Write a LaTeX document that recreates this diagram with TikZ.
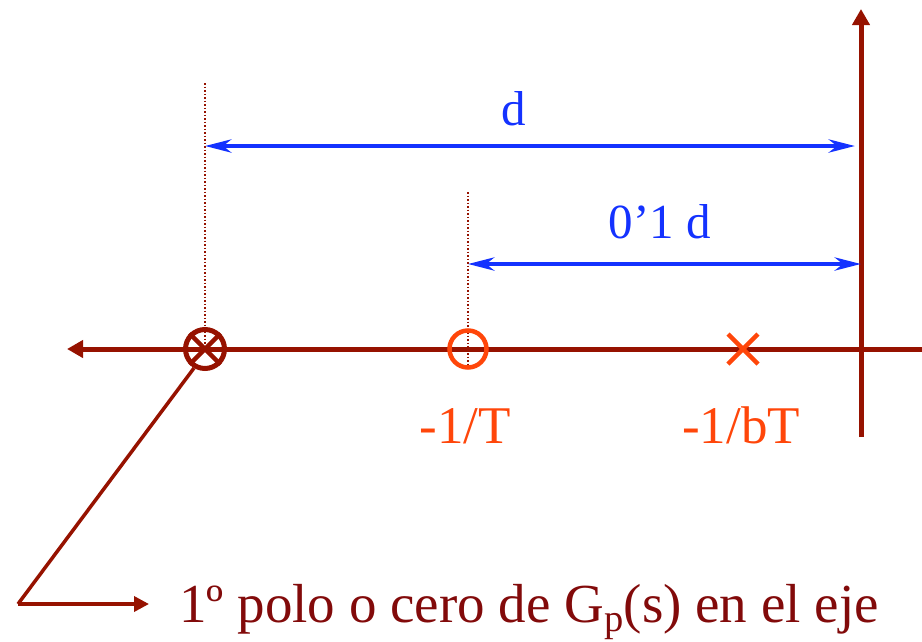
\documentclass[tikz,border=0pt]{standalone}
\usepackage{fontspec}
\setmainfont{Liberation Serif}
\usetikzlibrary{arrows.meta,calc}
\definecolor{axred}{RGB}{150,18,0}
\definecolor{txtred}{RGB}{130,10,10}
\definecolor{pblue}{RGB}{20,50,255}
\definecolor{porange}{RGB}{255,70,10}
\tikzset{
  axis/.style={draw=axred, line width=5pt, -{Triangle[length=16pt,width=17pt]}},
  guide/.style={draw=axred, line width=1.5pt, dotted},
  dim/.style={draw=pblue, line width=4.5pt, {Stealth[length=26pt,width=13pt,inset=8pt]}-{Stealth[length=26pt,width=13pt,inset=8pt]}},
  lead/.style={draw=axred, line width=3.5pt},
  dimlab/.style={pblue, font=\fontsize{49}{52}\selectfont, anchor=base, inner sep=0pt},
  pzlab/.style={porange, font=\fontsize{53}{56}\selectfont, anchor=base, inner sep=0pt},
}
\begin{document}
\begin{tikzpicture}[x=1pt,y=-1pt]
\useasboundingbox (0,0) rectangle (922,641);
% axes
\coordinate (hR) at (922,349);
\coordinate (hL) at (67,349);
\coordinate (vB) at (861,437);
\coordinate (vT) at (861,9);
\draw[axis] (hR) -- (hL);
\draw[axis] (vB) -- (vT);
% guides
\coordinate (g1t) at (205,83);
\coordinate (g1b) at (205,349);
\coordinate (g2t) at (468,192);
\coordinate (g2b) at (468,366);
\draw[guide] (g1t) -- (g1b);
\draw[guide] (g2t) -- (g2b);
% dimension arrows
\coordinate (d1a) at (205,146);
\coordinate (d1b) at (855,146);
\coordinate (d2a) at (468,264);
\coordinate (d2b) at (861,264);
\draw[dim] (d1a) -- (d1b);
\draw[dim] (d2a) -- (d2b);
\node[dimlab] (dlab) at (514,125) {d};
\node[dimlab] (d2lab) at (660,238) {0’1 d};
% first pole/zero
\node[draw=axred, line width=5pt, circle, minimum size=39pt, inner sep=0pt] (pz) at (205,349) {};
\draw[axred, line width=4.5pt] (pz.north east) -- (pz.south west);
\draw[axred, line width=4.5pt] (pz.north west) -- (pz.south east);
% zero
\node[draw=porange, line width=4.5pt, circle, minimum size=37pt, inner sep=0pt] (zero) at (468,349) {};
% pole
\coordinate (pole) at (743,349);
\draw[porange, line width=4.5pt] ($(pole)+(-15,-15)$) -- ($(pole)+(15,15)$);
\draw[porange, line width=4.5pt] ($(pole)+(-15,15)$) -- ($(pole)+(15,-15)$);
\node[pzlab] (zlab) at (465,443) {-1/T};
\node[pzlab] (plab) at (741,443) {-1/bT};
% leader
\node[txtred, font=\fontsize{55}{58}\selectfont, anchor=base west, inner sep=0pt] (note) at (179,622) {1º polo o cero de G\textsubscript{p}(s) en el eje};
\coordinate (corner) at (18,604);
\draw[lead] (pz.240) -- (corner);
\draw[lead, -{Triangle[length=15pt,width=15pt]}] (corner) -- (149,604);
\end{tikzpicture}
\end{document}
